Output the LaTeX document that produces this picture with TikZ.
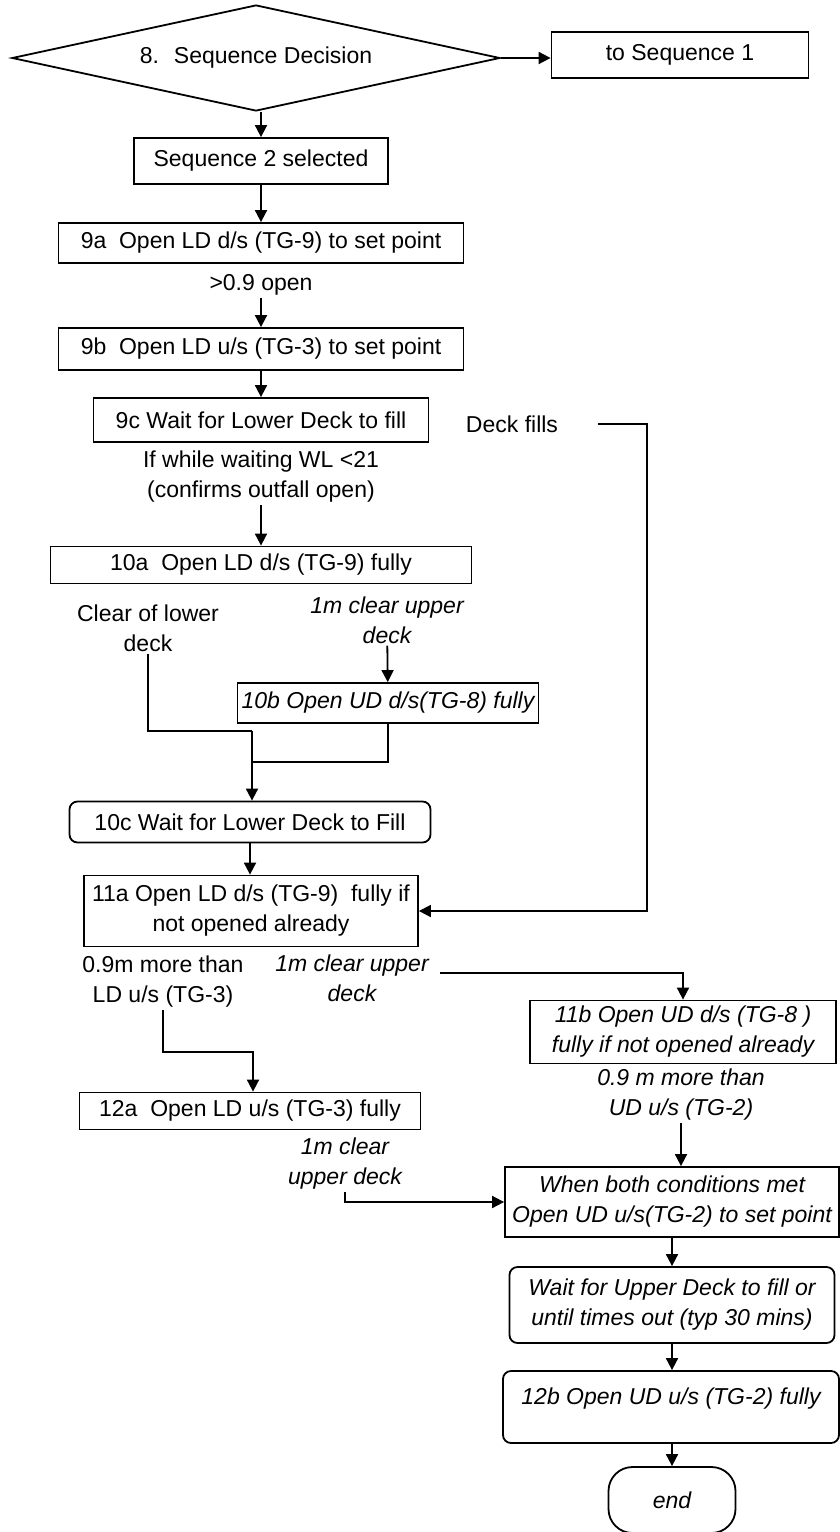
\documentclass[tikz,border=0pt]{standalone}
\usepackage{fontspec}
\setmainfont{Liberation Sans}
\usepackage{tikz}
\usetikzlibrary{arrows.meta,positioning,shapes.geometric}
\newcommand{\stepfont}{\fontsize{23}{30}\selectfont}

\begin{document}
\begin{tikzpicture}[
  x=1pt, y=-1pt,
  >={Triangle[length=12pt,width=12pt]},
  box/.style={draw, line width=1.8pt, inner sep=0pt, align=center, font=\stepfont},
  rbox/.style={box, rounded corners=8pt},
  ibox/.style={box, font=\stepfont\itshape},
  lbl/.style={inner sep=2pt, align=center, font=\stepfont},
  ilbl/.style={lbl, font=\stepfont\itshape},
  arrow/.style={->, line width=1.8pt},
  link/.style={line width=1.8pt}
]
  \useasboundingbox (0,0) rectangle (840,1532);

  % Decision and lower deck set points
  \node[box, diamond, shape aspect=4.6, minimum width=488pt, minimum height=106pt] (dec) at (256,58) {8.~ Sequence Decision};
  \node[box, minimum width=257pt, minimum height=46pt] (seq1) at (680,55) {to Sequence 1};
  \node[box, minimum width=254pt, minimum height=46pt] (sel) at (261,161) {Sequence 2 selected};
  \node[box, minimum width=405pt, minimum height=40pt] (ld9a) at (261,243) {9a~ Open LD d/s (TG-9) to set point};
  \node[lbl] (open9) at (261,285) {>0.9 open};
  \node[box, minimum width=405pt, minimum height=42pt] (lu9b) at (261,349) {9b~ Open LD u/s (TG-3) to set point};
  \node[box, minimum width=335pt, minimum height=44pt] (fill9c) at (261,420) {9c Wait for Lower Deck to fill};
  \node[lbl] (fills) at (512,424) {Deck fills};
  \node[lbl] (wl21) at (261,477) {If while waiting WL <21\\(confirms outfall open)};

  % Step 10
  \node[box, minimum width=421pt, minimum height=37pt] (ld10a) at (261,565) {10a~ Open LD d/s (TG-9) fully};
  \node[lbl] (clrlow) at (148,628) {Clear of lower\\deck};
  \node[ilbl] (clrup1) at (387,620) {1m clear upper\\deck};
  \node[ibox, minimum width=301pt, minimum height=40pt] (ud10b) at (388,703) {10b Open UD d/s(TG-8) fully};
  \coordinate (join1) at (252,731);
  \coordinate (join2) at (252,762);
  \node[rbox, minimum width=361pt, minimum height=41pt] (fill10c) at (250,822) {10c Wait for Lower Deck to Fill};

  % Step 11 and 12a
  \node[box, minimum width=334pt, minimum height=71pt] (ld11a) at (251,911) {11a Open LD d/s (TG-9)~ fully if\\not opened already};
  \coordinate (fillcorner) at (647,424);
  \node[lbl] (more3) at (163,982) {0.9m more than\\LD u/s (TG-3)};
  \node[ilbl] (clrup2) at (352,978) {1m clear upper\\deck};
  \node[ibox, minimum width=306pt, minimum height=63pt] (ud11b) at (683,1032) {11b Open UD d/s (TG-8 )\\fully if not opened already};
  \node[ilbl] (more2) at (681,1095) {0.9 m more than\\UD u/s (TG-2)};
  \coordinate (join3) at (253,1052);
  \node[box, minimum width=341pt, minimum height=37pt] (lu12a) at (250,1111) {12a~ Open LD u/s (TG-3) fully};
  \node[ilbl] (clrup3) at (345,1164) {1m clear\\upper deck};

  % Upper deck
  \node[ibox, minimum width=334pt, minimum height=70pt] (both) at (672,1202) {When both conditions met\\Open UD u/s(TG-2) to set point};
  \node[ibox, rounded corners=8pt, minimum width=325pt, minimum height=76pt] (waitud) at (672,1305) {Wait for Upper Deck to fill or\\until times out (typ 30 mins)};
  \node[ibox, rounded corners=8pt, minimum width=336pt, minimum height=72pt, text depth=21pt] (uu12b) at (671,1407) {12b Open UD u/s (TG-2) fully};
  \node[ibox, rounded corners=24pt, minimum width=127pt, minimum height=66pt] (finish) at (672,1500) {end};

  \draw[arrow] (dec.east) -- (dec.east -| seq1.west);
  \draw[arrow] (sel.north |- dec.south) -- (sel.north);
  \draw[arrow] (sel) -- (ld9a);
  \draw[arrow] (open9) -- (lu9b);
  \draw[arrow] (lu9b) -- (fill9c);
  \draw[arrow] (wl21) -- (ld10a);
  \draw[arrow] ([xshift=38pt]fills.east) -- (fillcorner) |- (ld11a.east);

  \draw[arrow] (clrup1) -- (ud10b);
  \draw[link] (clrlow) |- (join1);
  \draw[link] (ud10b) |- (join2);
  \draw[arrow] (join1) -- (join1 |- fill10c.north);
  \draw[arrow] (fill10c.south) -- (fill10c.south |- ld11a.north);

  \draw[arrow] (more3) |- (join3) -- (join3 |- lu12a.north);
  \draw[arrow] ([xshift=9pt,yshift=5pt]clrup2.east) -| (ud11b.north);
  \draw[arrow] (more2.south) -- (more2.south |- both.north);
  \draw[arrow] (clrup3) |- (both.west);
  \draw[arrow] (both) -- (waitud);
  \draw[arrow] (waitud.south) -- (waitud.south |- uu12b.north);
  \draw[arrow] (waitud.south |- uu12b.south) -- (waitud.south |- finish.north);
\end{tikzpicture}
\end{document}
